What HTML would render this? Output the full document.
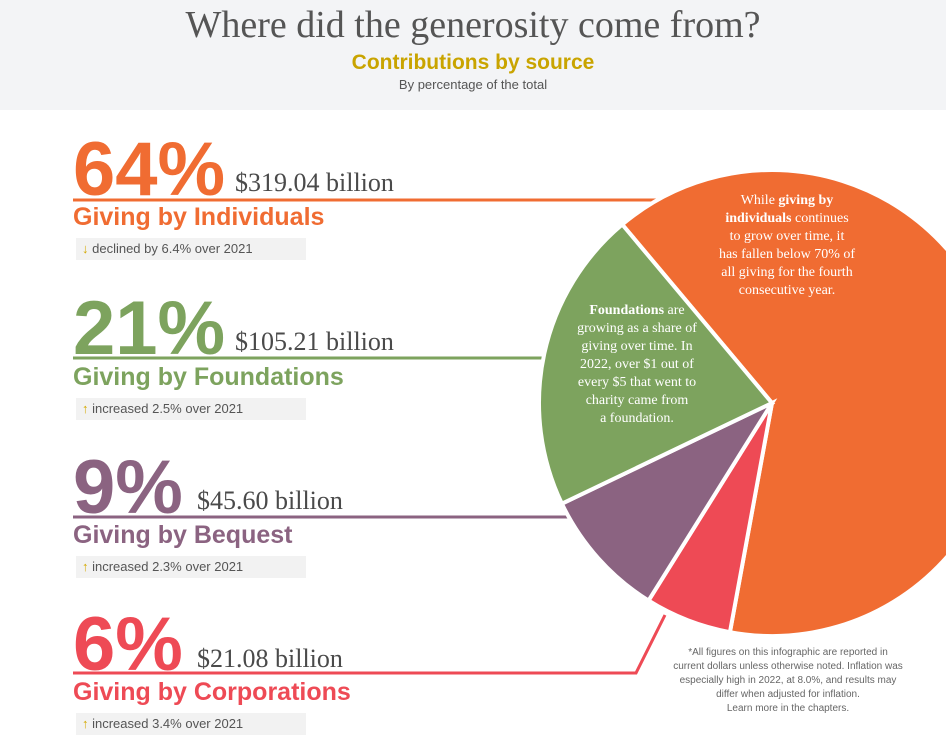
<!DOCTYPE html>
<html><head><meta charset="utf-8">
<style>
body{margin:0;width:946px;height:737px;overflow:hidden;background:#fff;font-family:"Liberation Sans",sans-serif;position:relative}
.abs{position:absolute;white-space:nowrap}
.big{font-weight:bold;font-size:76px;letter-spacing:0px;line-height:1}
.amt{font-family:"Liberation Serif",serif;font-size:26px;color:#4a4a4a;line-height:1}
.lab{font-weight:bold;font-size:25px;line-height:1}
.box{background:#f2f2f2;font-size:13px;color:#555;height:22px;line-height:22px;padding-left:6px;width:224px}
.box b{font-weight:normal;color:#d4a900}
.pt{font-family:"Liberation Serif",serif;color:#fff;font-size:14px;line-height:18px;text-align:center}
</style></head><body>
<div class="abs" style="left:0;top:0;width:946px;height:110px;background:#f3f4f6"></div>
<div class="abs" style="left:0;width:946px;top:3px;text-align:center;font-family:'Liberation Serif',serif;font-size:38px;color:#555">Where did the generosity come from?</div>
<div class="abs" style="left:0;width:946px;top:51px;text-align:center;font-weight:bold;font-size:21px;color:#c9a400">Contributions by source</div>
<div class="abs" style="left:0;width:946px;top:77px;text-align:center;font-size:13px;color:#555">By percentage of the total</div>

<svg id="chart" class="abs" style="left:0;top:0" width="946" height="737"></svg>

<div class="abs big" style="left:73px;top:132px;color:#f06c32">64%</div>
<div class="abs amt" style="left:235px;top:170px">$319.04 billion</div>
<div class="abs lab" style="left:73px;top:205px;color:#f06c32">Giving by Individuals</div>
<div class="abs box" style="left:76px;top:238px"><b>↓</b> declined by 6.4% over 2021</div>

<div class="abs big" style="left:73px;top:291px;color:#7da35e">21%</div>
<div class="abs amt" style="left:235px;top:329px">$105.21 billion</div>
<div class="abs lab" style="left:73px;top:365px;color:#7da35e">Giving by Foundations</div>
<div class="abs box" style="left:76px;top:398px"><b>↑</b> increased 2.5% over 2021</div>

<div class="abs big" style="left:73px;top:450px;color:#8b6381">9%</div>
<div class="abs amt" style="left:197px;top:488px">$45.60 billion</div>
<div class="abs lab" style="left:73px;top:523px;color:#8b6381">Giving by Bequest</div>
<div class="abs box" style="left:76px;top:556px"><b>↑</b> increased 2.3% over 2021</div>

<div class="abs big" style="left:73px;top:607px;color:#ee4a55">6%</div>
<div class="abs amt" style="left:197px;top:646px">$21.08 billion</div>
<div class="abs lab" style="left:73px;top:680px;color:#ee4a55">Giving by Corporations</div>
<div class="abs box" style="left:76px;top:713px"><b>↑</b> increased 3.4% over 2021</div>

<div class="abs pt" style="left:687px;top:192px;width:200px">While <b>giving by<br>individuals</b> continues<br>to grow over time, it<br>has fallen below 70% of<br>all giving for the fourth<br>consecutive year.</div>
<div class="abs pt" style="left:537px;top:302px;width:200px"><b>Foundations</b> are<br>growing as a share of<br>giving over time. In<br>2022, over $1 out of<br>every $5 that went to<br>charity came from<br>a foundation.</div>

<div class="abs" style="left:672px;top:646px;width:232px;text-align:center;font-size:10px;line-height:14px;color:#666;white-space:normal">*All figures on this infographic are reported in current dollars unless otherwise noted. Inflation was especially high in 2022, at 8.0%, and results may differ when adjusted for inflation.<br>Learn more in the chapters.</div>

<script>
const categories = ["Individuals","Corporations","Bequest","Foundations"];
const values = [64, 6, 9, 21];
const colors = ["#f06c32","#ee4a55","#8b6381","#7da35e"];
const svg = document.getElementById('chart');
const NS = "http://www.w3.org/2000/svg";
const cx = 772, cy = 403, r = 233, startDeg = -40;
const total = values.reduce((a,b)=>a+b,0);
function pt(deg){const a=deg*Math.PI/180;return [cx+r*Math.sin(a), cy-r*Math.cos(a)];}
let acc = startDeg;
values.forEach((v,i)=>{
  const sweep = v/total*360;
  const a0=acc, a1=acc+sweep;
  const p0=pt(a0), p1=pt(a1);
  const p=document.createElementNS(NS,'path');
  p.setAttribute('d',`M${cx},${cy} L${p0[0]},${p0[1]} A${r},${r} 0 ${sweep>180?1:0} 1 ${p1[0]},${p1[1]} Z`);
  p.setAttribute('fill',colors[i]);
  p.setAttribute('stroke','#fff');
  p.setAttribute('stroke-width','4');
  
  
  svg.appendChild(p);
  acc=a1;
});
function line(pts,col,name){
  const l=document.createElementNS(NS,'polyline');
  l.setAttribute('points',pts.map(q=>q.join(',')).join(' '));
  l.setAttribute('fill','none');l.setAttribute('stroke',col);l.setAttribute('stroke-width','3');
  
  
  svg.insertBefore(l,svg.firstChild);
}
line([[73,200],[700,200]],colors[0],'individuals-rule');
line([[73,358],[600,358]],colors[3],'foundations-rule');
line([[73,517],[620,517]],colors[2],'bequest-rule');
line([[73,673],[636,673],[665,615]],colors[1],'corporations-rule');
</script>
</body></html>
